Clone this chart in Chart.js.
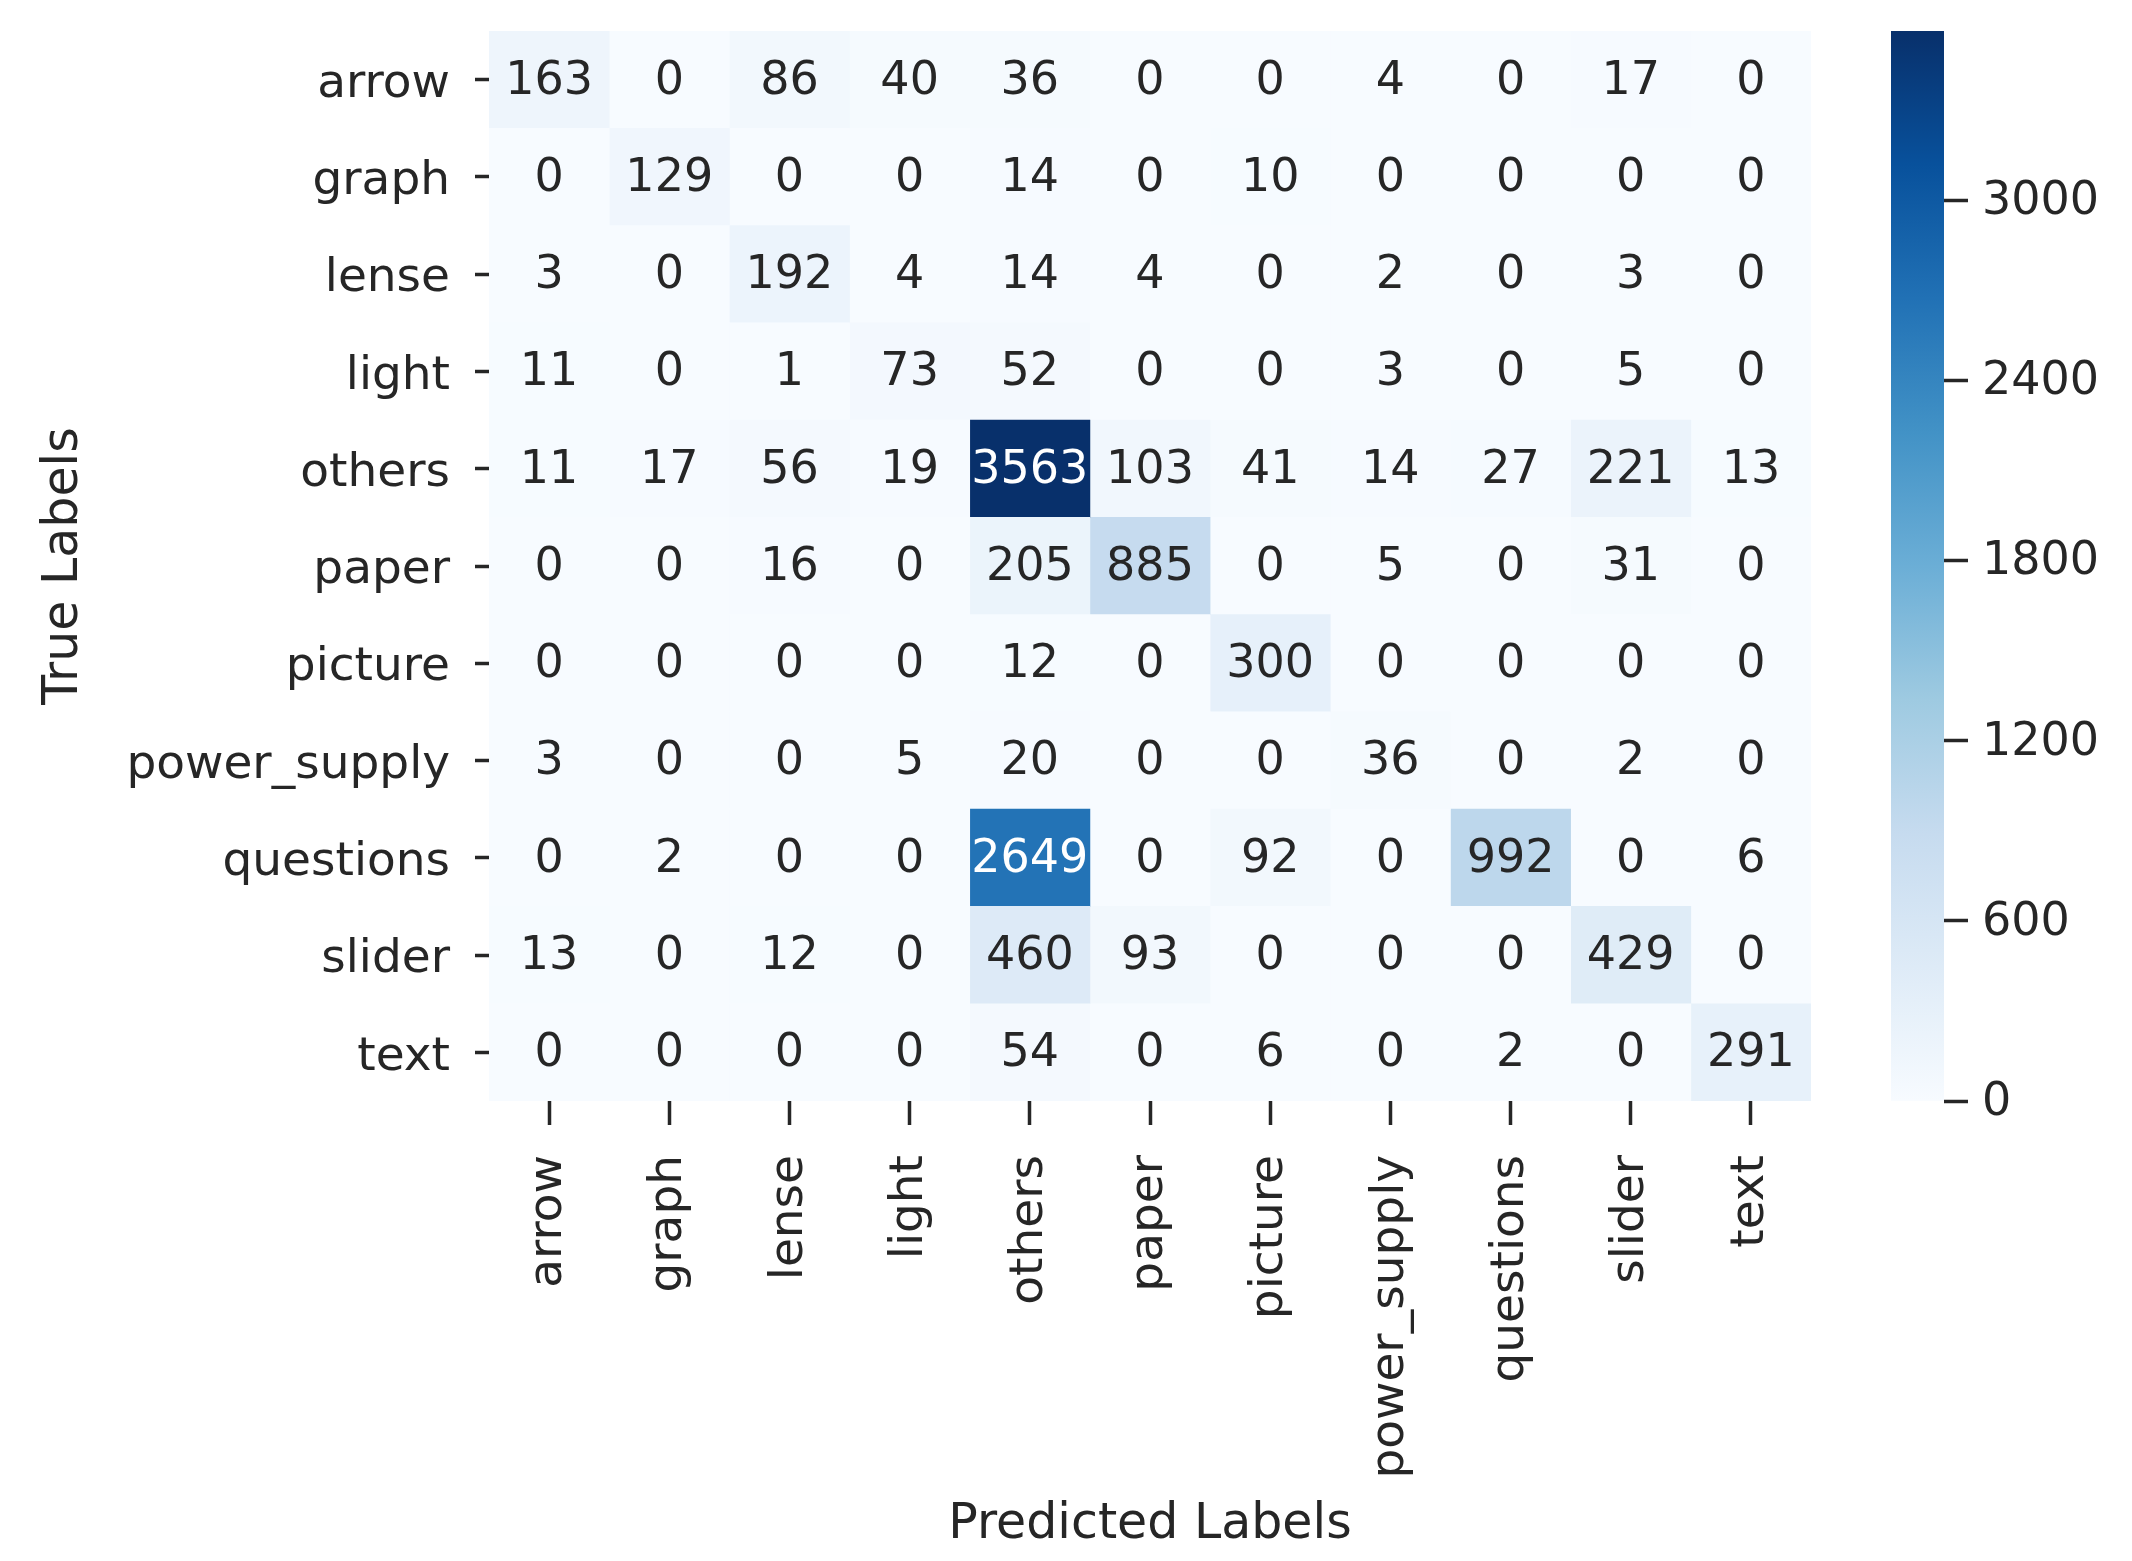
<!DOCTYPE html>
<html>
<head>
<meta charset="utf-8">
<title>Confusion matrix</title>
<script src="https://cdn.jsdelivr.net/npm/chart.js@4.4.1/dist/chart.umd.min.js"></script>
<style>
  html, body { margin: 0; padding: 0; background: #ffffff; }
  #wrap { position: relative; width: 2132px; height: 1561px; }
  #heatmap { position: absolute; left: 0; top: 0; }
  #colorbar { position: absolute; left: 1850px; top: 0; }
</style>
</head>
<body>
<div id="wrap">
  <canvas id="heatmap" width="2132" height="1561"></canvas>
  <canvas id="colorbar" width="282" height="1561"></canvas>
</div>
<script>
// labels (same order on both axes)
const predictedLabels = ["arrow", "graph", "lense", "light", "others", "paper", "picture", "power_supply", "questions", "slider", "text"];
const trueLabels = ["arrow", "graph", "lense", "light", "others", "paper", "picture", "power_supply", "questions", "slider", "text"];

// one row per true label, one value per predicted label
const arrowRow = [163, 0, 86, 40, 36, 0, 0, 4, 0, 17, 0];
const graphRow = [0, 129, 0, 0, 14, 0, 10, 0, 0, 0, 0];
const lenseRow = [3, 0, 192, 4, 14, 4, 0, 2, 0, 3, 0];
const lightRow = [11, 0, 1, 73, 52, 0, 0, 3, 0, 5, 0];
const othersRow = [11, 17, 56, 19, 3563, 103, 41, 14, 27, 221, 13];
const paperRow = [0, 0, 16, 0, 205, 885, 0, 5, 0, 31, 0];
const pictureRow = [0, 0, 0, 0, 12, 0, 300, 0, 0, 0, 0];
const powerSupplyRow = [3, 0, 0, 5, 20, 0, 0, 36, 0, 2, 0];
const questionsRow = [0, 2, 0, 0, 2649, 0, 92, 0, 992, 0, 6];
const sliderRow = [13, 0, 12, 0, 460, 93, 0, 0, 0, 429, 0];
const textRow = [0, 0, 0, 0, 54, 0, 6, 0, 2, 0, 291];

const colorbarTicks = [0, 600, 1200, 1800, 2400, 3000];

document.addEventListener("DOMContentLoaded", () => {
  const counts = [arrowRow, graphRow, lenseRow, lightRow, othersRow, paperRow, pictureRow, powerSupplyRow, questionsRow, sliderRow, textRow];
  const vmax = Math.max(...counts.flat());

  const FONT = "'DejaVu Sans', sans-serif";
  const INK = "#262626";

  // matplotlib "Blues"
  const blues = ["#f7fbff", "#deebf7", "#c6dbef", "#9ecae1", "#6baed6", "#4292c6", "#2171b5", "#08519c", "#08306b"];
  const hexToRgb = (h) => [1, 3, 5].map((i) => parseInt(h.slice(i, i + 2), 16));

  const bluesRgb = (t) => {
    t = Math.min(1, Math.max(0, t));
    const pos = t * (blues.length - 1);
    const i = Math.min(Math.floor(pos), blues.length - 2);
    const f = pos - i;
    const a = hexToRgb(blues[i]);
    const b = hexToRgb(blues[i + 1]);
    return a.map((v, k) => Math.round(v + (b[k] - v) * f));
  };
  const bluesColor = (t) => `rgb(${bluesRgb(t).join(",")})`;

  // same rule seaborn uses to pick annotation colour
  const luminance = (rgb) => {
    const lin = rgb.map((v) => {
      v = v / 255;
      return v <= 0.03928 ? v / 12.92 : Math.pow((v + 0.055) / 1.055, 2.4);
    });
    return 0.2126 * lin[0] + 0.7152 * lin[1] + 0.0722 * lin[2];
  };

  // axes labels would otherwise push the plot area around
  const noScalePadding = (scale) => {
    scale.paddingTop = 0;
    scale.paddingBottom = 0;
    scale.paddingLeft = 0;
    scale.paddingRight = 0;
  };

  const datasets = predictedLabels.map((name, c) => ({
    label: name,
    data: trueLabels.map(() => [c, c + 1]),
    backgroundColor: trueLabels.map((_, r) => bluesColor(counts[r][c] / vmax)),
    borderWidth: 0,
    barPercentage: 1,
    categoryPercentage: 1,
    grouped: false,
  }));

  const annotate = {
    id: "annotate",
    afterDatasetsDraw(chart) {
      const ctx = chart.ctx;
      ctx.save();
      ctx.font = `46px ${FONT}`;
      ctx.textAlign = "center";
      ctx.textBaseline = "middle";
      chart.data.datasets.forEach((ds, c) => {
        chart.getDatasetMeta(c).data.forEach((bar, r) => {
          const { x, y, base } = bar.getProps(["x", "y", "base"], true);
          const v = counts[r][c];
          ctx.fillStyle = luminance(bluesRgb(v / vmax)) > 0.408 ? INK : "#ffffff";
          ctx.fillText(String(v), (x + base) / 2, y + 2);
        });
      });
      ctx.restore();
    },
  };

  new Chart(document.getElementById("heatmap"), {
    type: "bar",
    data: { labels: trueLabels, datasets },
    plugins: [annotate],
    options: {
      indexAxis: "y",
      responsive: false,
      animation: false,
      devicePixelRatio: 1,
      layout: { padding: { top: 31, right: 321, left: 0, bottom: 0 } },
      plugins: { legend: { display: false }, tooltip: { enabled: false } },
      scales: {
        y: {
          type: "category",
          offset: true,
          border: { display: false },
          grid: { offset: false, drawOnChartArea: false, drawTicks: true, tickLength: 14, tickWidth: 3.5, tickColor: INK },
          ticks: { color: INK, font: { family: FONT, size: 47 }, padding: 25, labelOffset: 5 },
          title: { display: true, text: "True Labels", color: INK, font: { family: FONT, size: 49 }, padding: { top: 35, bottom: 0 } },
          afterFit: (scale) => {
            scale.width = 489;
            noScalePadding(scale);
          },
        },
        x: {
          type: "linear",
          min: 0,
          max: predictedLabels.length,
          border: { display: false },
          grid: { drawOnChartArea: false, drawTicks: true, tickLength: 24, tickWidth: 3.5, tickColor: INK },
          ticks: {
            color: INK,
            font: { family: FONT, size: 47 },
            padding: 30,
            autoSkip: false,
            minRotation: 90,
            maxRotation: 90,
            callback: (value, index) => predictedLabels[index],
          },
          afterBuildTicks: (scale) => {
            scale.ticks = predictedLabels.map((_, i) => ({ value: i + 0.5 }));
          },
          title: { display: true, text: "Predicted Labels", color: INK, font: { family: FONT, size: 49 }, padding: { top: 0, bottom: 6 } },
          afterFit: (scale) => {
            scale.height = 460;
            noScalePadding(scale);
          },
        },
      },
    },
  });

  // colour bar: one bar from 0 to vmax filled with the colormap
  new Chart(document.getElementById("colorbar"), {
    type: "bar",
    data: {
      labels: [""],
      datasets: [
        {
          data: [[0, vmax]],
          barPercentage: 1,
          categoryPercentage: 1,
          borderWidth: 0,
          backgroundColor: (context) => {
            const area = context.chart.chartArea;
            if (!area) return blues[0];
            const g = context.chart.ctx.createLinearGradient(0, area.bottom, 0, area.top);
            blues.forEach((col, i) => g.addColorStop(i / (blues.length - 1), col));
            return g;
          },
        },
      ],
    },
    options: {
      responsive: false,
      animation: false,
      devicePixelRatio: 1,
      layout: { padding: { top: 31, right: 0, left: 41, bottom: 460 } },
      plugins: { legend: { display: false }, tooltip: { enabled: false } },
      scales: {
        x: { display: false, offset: true },
        y: {
          position: "right",
          min: 0,
          max: vmax,
          border: { display: false },
          grid: { drawOnChartArea: false, drawTicks: true, tickLength: 24, tickWidth: 3.5, tickColor: INK },
          ticks: { color: INK, font: { family: FONT, size: 46 }, padding: 14, labelOffset: 2, callback: (value) => String(value) },
          afterBuildTicks: (scale) => {
            scale.ticks = colorbarTicks.map((v) => ({ value: v }));
          },
          afterFit: (scale) => {
            scale.width = 188;
            noScalePadding(scale);
          },
        },
      },
    },
  });
});
</script>
</body>
</html>
